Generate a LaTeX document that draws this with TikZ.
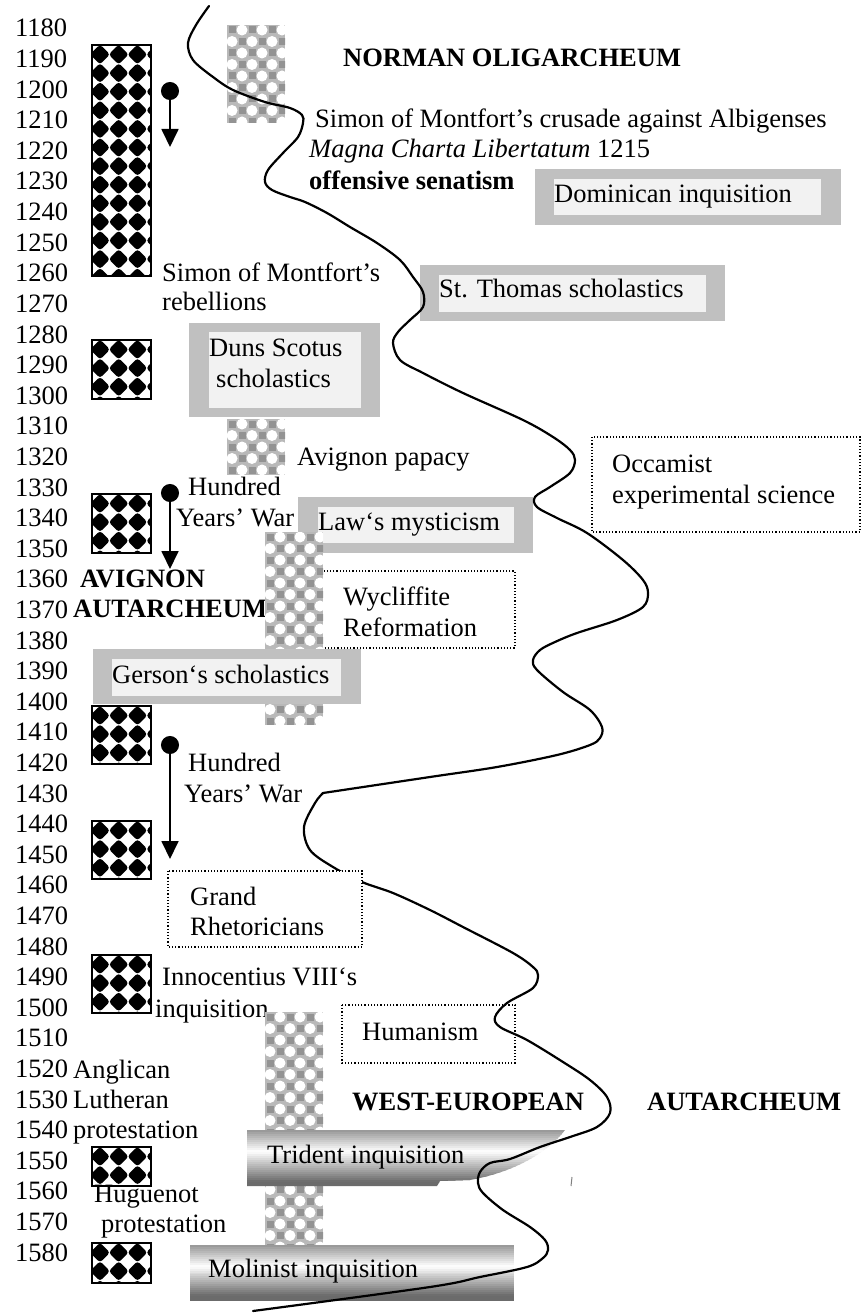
\documentclass[tikz,border=0pt]{standalone}
\usepackage{fontspec}
\setmainfont{Liberation Serif}
\usetikzlibrary{arrows.meta}

\definecolor{framegray}{HTML}{C0C0C0}
\definecolor{innergray}{HTML}{F2F2F2}
\definecolor{shadegray}{gray}{0.42}

% black diamond bars (x1,y1,x2,y2)
\newcommand{\diabox}[4]{%
  \begin{scope}
    \clip (#1,#2) rectangle (#3,#4);
    \foreach \i in {0,...,3}
      \foreach \j in {0,...,12}
        \fill[rounded corners=3pt] ({#1+8+18.7*\i},{#2+9.5+18.6*\j})
          +(-10,0) -- +(0,-10) -- +(10,0) -- +(0,10) -- cycle;
  \end{scope}
  \draw[line width=1.3pt] (#1,#2) rectangle (#3,#4);
}

% grey halftone bars (x1,y1,x2,y2)
\newcommand{\halftone}[4]{%
  \begin{scope}
    \clip (#1,#2) rectangle (#3,#4);
    \fill[gray!55] (#1,#2) rectangle (#3,#4);
    \foreach \r in {0,...,10}
      \foreach \c in {0,...,3} {
        \fill[white] ({#1+15+20*\c},{#2+5+23*\r}) circle[radius=5.5pt];
        \fill[white] ({#1+5+20*\c},{#2+16.5+23*\r}) circle[radius=5.5pt];
        \fill[gray!85] ({#1+1.5+20*\c},{#2+1.5+23*\r}) rectangle +(7,7);
        \fill[gray!85] ({#1+11.5+20*\c},{#2+13+23*\r}) rectangle +(7,7);
      }
  \end{scope}
}

% metallic strips inside a clip (x1,y1,x2,y2)
\newcommand{\scrollfill}[4]{%
  \foreach \s in {0,...,27} {
    \pgfmathsetmacro\p{max(0,100-180*abs(\s/27-0.38))}
    \fill[white!\p!shadegray] (#1,{#2+(#4-#2)*\s/28}) rectangle (#3,{#2+(#4-#2)*(\s+1.3)/28});
  }
}

\begin{document}
\begin{tikzpicture}[x=1pt,y=-1pt,
  every node/.style={font=\fontsize{26.5}{31}\selectfont, inner sep=0pt, anchor=base west},
  headline/.style={font=\fontsize{26.5}{31}\selectfont\bfseries},
  dotbox/.style={draw, dotted, line width=1.2pt, fill=white},
  dotarrow/.style={{Circle[length=18pt]}-{Triangle[length=18pt,width=17pt]}, line width=1.8pt},
  wave/.style={line width=2.2pt, line join=round, line cap=round}]
  \useasboundingbox (0,0) rectangle (861,1313);

  % time axis
  \foreach \k [evaluate=\k as \yr using {int(1180+10*\k)}] in {0,...,40}
    \node (yr\yr) at (15,{37+30.6*\k}) {\yr};

  % left column texts
  \node (montfortA) at (162,282) {Simon of Montfort’s};
  \node (montfortB) at (162,310) {rebellions};
  \node (warAtxt) at (188,495) {Hundred};
  \node (warAtxtb) at (176,526) {Years’ War};
  \node[headline] (avignonA) at (80,587) {AVIGNON};
  \node[headline] (avignonB) at (73,617) {AUTARCHEUM};
  \node (warBtxt) at (188,771) {Hundred};
  \node (warBtxtb) at (184,802) {Years’ War};
  \node (innocA) at (162,985) {Innocentius VIII‘s};
  \node (innocB) at (155,1017) {inquisition};
  \node (anglican) at (73,1078) {Anglican};
  \node (lutheran) at (73,1108) {Lutheran};
  \node (protestA) at (73,1138) {protestation};
  \node (huguenotA) at (94,1202) {Huguenot};
  \node (huguenotB) at (101,1232) {protestation};

  % right column texts
  \node[headline] (norman) at (343,67) {NORMAN OLIGARCHEUM};
  \node (crusade) at (315,128) {Simon of Montfort’s crusade against Albigenses};
  \node (magna) at (309,158) {\textit{Magna Charta Libertatum} 1215};
  \node[headline] (senatism) at (309,190) {offensive senatism};
  \node (papacy) at (297,465) {Avignon papacy};
  \node[headline] (westeu) at (352,1110) {WEST-EUROPEAN};
  \node[headline] (autarch) at (647,1110) {AUTARCHEUM};

  % diamond bars
  \diabox{92}{45}{151}{276}
  \diabox{92}{340}{151}{399}
  \diabox{92}{494}{151}{553}
  \diabox{92}{706}{151}{764}
  \diabox{92}{821}{151}{879}
  \diabox{92}{955}{151}{1013}
  \diabox{92}{1147}{151}{1186}
  \diabox{92}{1243}{151}{1283}

  % framed scholastics
  \fill[framegray] (535,169) rectangle (841,225);
  \fill[innergray] (554,179) rectangle (821,215);
  \node (dominican) at (554,203) {Dominican inquisition};
  \fill[framegray] (420,265) rectangle (725,321);
  \fill[innergray] (439,275) rectangle (706,312);
  \node (thomas) at (439,298) {St. Thomas scholastics};
  \fill[framegray] (189,323) rectangle (380,417);
  \fill[innergray] (209,332) rectangle (361,408);
  \node (dunsA) at (209,356) {Duns Scotus};
  \node (dunsB) at (216,387) {scholastics};
  \fill[framegray] (298,497) rectangle (533,553);
  \fill[innergray] (318,507) rectangle (514,543);
  \node (law) at (318,530) {Law‘s mysticism};

  % dotted boxes
  \draw[dotbox] (592,437) rectangle (860,532);
  \node (occamA) at (612,472) {Occamist};
  \node (occamB) at (612,503) {experimental science};
  \draw[dotbox] (312,571) rectangle (515,648);
  \node (wyclifA) at (343,605) {Wycliffite};
  \node (wyclifB) at (343,636) {Reformation};
  \draw[dotbox] (342,1005) rectangle (515,1063);
  \node (humanism) at (362,1040) {Humanism};

  % halftone bars
  \halftone{227}{25}{285}{123}
  \halftone{227}{419}{285}{475}
  \halftone{265}{532}{323}{725}
  \halftone{265}{1012}{323}{1245}

  \fill[framegray] (93,649) rectangle (361,704);
  \fill[innergray] (112,659) rectangle (341,696);
  \node (gerson) at (112,683) {Gerson‘s scholastics};

  % inquisition scrolls
  \begin{scope}
    \clip (247,1130) -- (565,1130) .. controls (548,1152) and (515,1172) .. (470,1180)
      -- (440,1181) -- (437,1186) -- (247,1186) -- cycle;
    \scrollfill{247}{1130}{566}{1186}
  \end{scope}
  \node (trident) at (267,1163) {Trident inquisition};
  \draw[gray, line width=1pt] (572,1177) -- (571,1186);
  \begin{scope}
    \clip (190,1245) rectangle (514,1300);
    \scrollfill{190}{1245}{514}{1300}
  \end{scope}
  \node (molinist) at (208,1277) {Molinist inquisition};

  % the wave
  \draw[wave] plot[smooth, tension=0.55] coordinates {
    (209,6) (196,25) (188,43) (193,60) (213,77) (233,90) (265,102) (290,108)
    (302,115) (303,123) (298,137) (283,153) (268,170) (265,182) (272,190)
    (290,197) (305,202) (327,213) (350,227) (377,243) (400,260) (413,277)
    (423,292) (423,307) (410,320) (398,332) (393,343) (400,360) (423,373)
    (463,393) (523,420) (553,437) (570,450) (575,460) (570,473) (550,487)
    (535,497) (537,507) (557,518) (587,533) (623,560) (643,580) (648,593)
    (643,607) (617,620) (577,633) (555,642) (540,650) (533,660) (537,670)
    (563,692) (590,710) (602,727) (600,738) (590,745) (557,755) (497,767)
    (430,777) (323,793)};
  \draw[wave] plot[smooth, tension=0.55] coordinates {
    (323,793) (315,803) (304,827) (310,850) (333,867) (362,882) (393,893)
    (430,910) (463,927) (513,953) (533,967) (538,975) (533,988) (507,1003)
    (495,1017) (500,1027) (527,1040) (563,1062) (590,1080) (607,1097)
    (610,1113) (597,1127) (570,1137) (540,1147) (510,1159) (490,1163)
    (480,1172) (478,1183) (483,1193) (503,1210) (530,1227) (545,1240)
    (548,1250) (543,1258) (527,1267) (480,1277) (430,1287) (253,1311)};

  \draw[dotbox] (168,871) rectangle (362,947);
  \node (grandA) at (190,905) {Grand};
  \node (grandB) at (190,935) {Rhetoricians};

  % wars
  \coordinate (warAtop) at (170,82);
  \coordinate (warAend) at (170,147);
  \coordinate (warBtop) at (170,484);
  \coordinate (warBend) at (170,569);
  \coordinate (warCtop) at (170,736);
  \coordinate (warCend) at (170,859);
  \draw[dotarrow] (warAtop) -- (warAend);
  \draw[dotarrow] (warBtop) -- (warBend);
  \draw[dotarrow] (warCtop) -- (warCend);
\end{tikzpicture}
\end{document}
